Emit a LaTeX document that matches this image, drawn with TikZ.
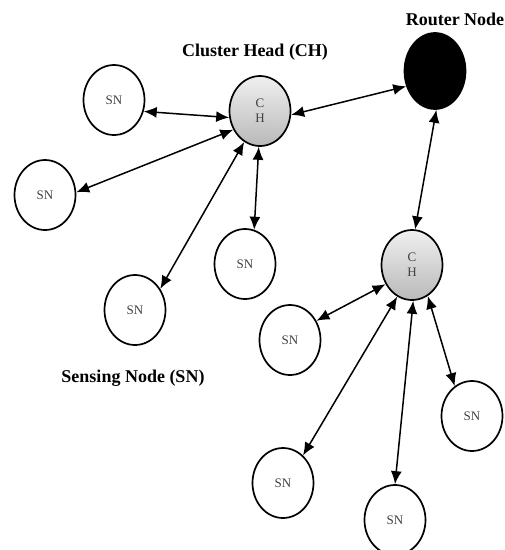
\documentclass[tikz,border=0pt]{standalone}
\usepackage{fontspec}
\setmainfont{Liberation Serif}
\usetikzlibrary{arrows.meta,shapes.geometric}

\begin{document}
\begin{tikzpicture}[>={Latex[length=13pt,width=11pt]}, x=1pt, y=-1pt]
        \tikzstyle{sn}=[ellipse,draw=black,line width=1.7pt,fill=white,minimum width=61pt,minimum height=70pt,inner sep=0pt,text=black!75,font=\fontsize{13}{15}\selectfont]
        \tikzstyle{ch}=[sn,top color=gray!12,bottom color=gray!55,align=center]
        \tikzstyle{router}=[sn,fill=black,minimum height=76pt]
        \tikzstyle{title}=[font=\bfseries\fontsize{18}{21}\selectfont]

        \path[use as bounding box] (0,0) rectangle (505,550);

        \node[sn]       (sn1)   at (114,100)    {SN};
        \node[sn]       (sn2)   at (45,195)     {SN};
        \node[ch]       (ch1)   at (260,111)    {C\\H};
        \node[router]   (rn)    at (435,71)     {};
        \node[sn]       (sn3)   at (245,264)    {SN};
        \node[sn]       (sn4)   at (135,310)    {SN};
        \node[ch]       (ch2)   at (412,265)    {C\\H};
        \node[sn]       (sn5)   at (290,340)    {SN};
        \node[sn]       (sn6)   at (472,416)    {SN};
        \node[sn]       (sn7)   at (283,483)    {SN};
        \node[sn]       (sn8)   at (395,520)    {SN};

        \node[title]    (lch)   at (255,52)     {Cluster Head (CH)};
        \node[title]    (lrn)   at (455,19)     {Router Node};
        \node[title]    (lsn)   at (133,378)    {Sensing Node (SN)};

        \path[<->, line width=1.5pt]
            (sn1.-21)   edge    (ch1.192)
            (ch1.215)   edge    (sn2.5)
            (ch1.243)   edge    (sn4.40)
            (ch1.268)   edge    (sn3.75)
            (ch1.-7)    edge    (rn.208)
            (rn.272)    edge    (ch2.85)
            (ch2.216)   edge    (sn5.36)
            (ch2.245)   edge    (sn7.54)
            (ch2.272)   edge    (sn8.90)
            (ch2.297)   edge    (sn6.120)
        ;
    \end{tikzpicture}
\end{document}
